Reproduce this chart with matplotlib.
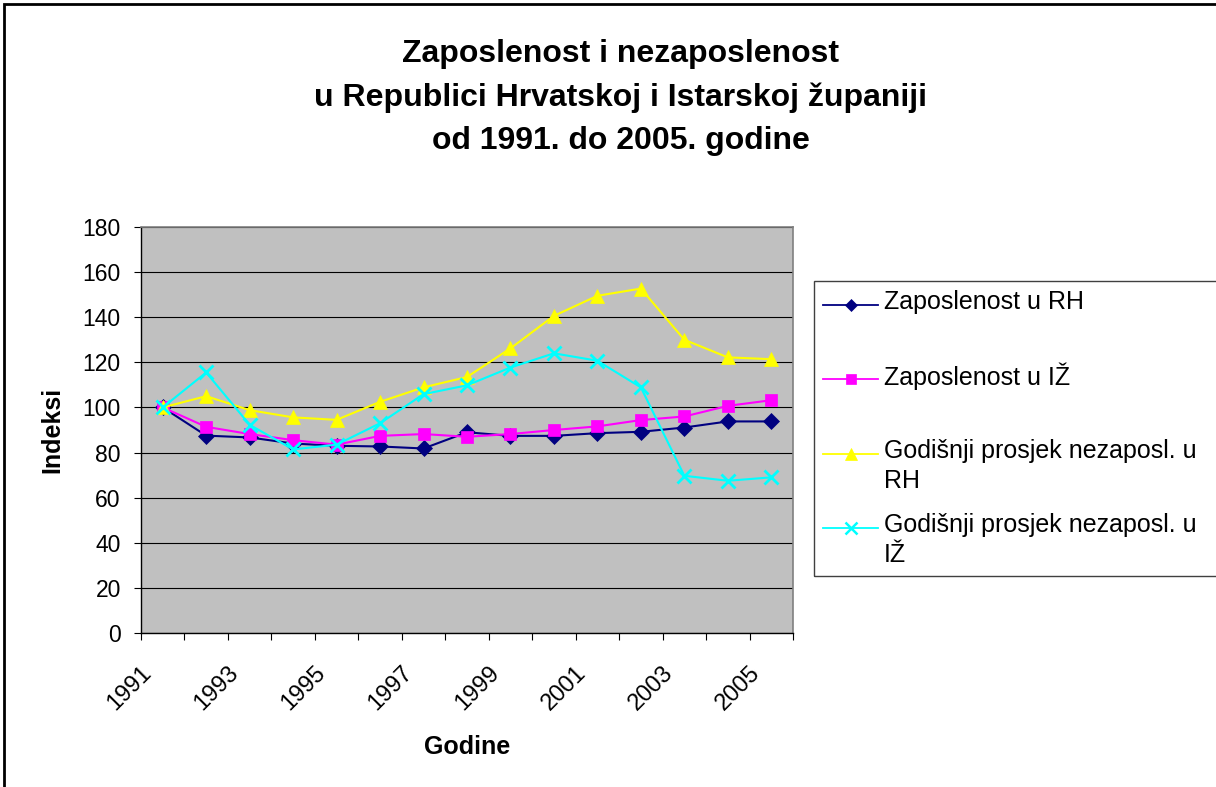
import matplotlib
matplotlib.use("Agg")
import matplotlib.pyplot as plt
from matplotlib.lines import Line2D
from matplotlib.patches import Rectangle
from matplotlib.transforms import ScaledTranslation

# Indeksi (1991 = 100), procitano sa slike
years = [1991, 1992, 1993, 1994, 1995, 1996, 1997, 1998,
         1999, 2000, 2001, 2002, 2003, 2004, 2005]
zap_rh = [100, 87.5, 86.7, 84.0, 83.0, 82.7, 81.8, 89.0,
          87.4, 87.4, 88.6, 89.2, 91.1, 93.8, 93.8]
zap_iz = [100, 91.4, 88.2, 85.5, 83.5, 87.4, 88.2, 87.0,
          88.2, 90.0, 91.6, 94.4, 96.0, 100.7, 103.2]
nez_rh = [100, 105.0, 98.8, 95.6, 94.5, 102.5, 108.9, 113.5,
          126.2, 140.6, 149.5, 152.7, 130.0, 122.2, 121.4]
nez_iz = [100, 115.5, 92.3, 81.4, 83.5, 93.0, 105.9, 109.8,
          117.7, 124.0, 120.7, 108.9, 69.7, 67.5, 69.0]

series_names = ["Zaposlenost u RH",
                "Zaposlenost u IŽ",
                "Godišnji prosjek nezaposl. u\nRH",
                "Godišnji prosjek nezaposl. u\nIŽ"]
series_colors = ["#000080", "#FF00FF", "#FFFF00", "#00FFFF"]
series_markers = ["D", "s", "^", "x"]

title_lines = ["Zaposlenost i nezaposlenost",
               "u Republici Hrvatskoj i Istarskoj županiji",
               "od 1991. do 2005. godine"]

plt.rcParams["font.family"] = ["Liberation Sans", "DejaVu Sans"]

W, H = 1216, 787


def fx(px):
    return px / W


def fy(py):
    return 1 - py / H


fig = plt.figure(figsize=(W / 100, H / 100), dpi=100)
ax = fig.add_axes([fx(141), fy(633), 652 / W, 406 / H])
ax.set_facecolor("#C0C0C0")

x = list(range(len(years)))
all_values = [zap_rh, zap_iz, nez_rh, nez_iz]
marker_sizes = [8, 9, 10.5, 10]
for vals, name, color, marker, ms in zip(all_values, series_names, series_colors,
                                         series_markers, marker_sizes):
    mew = 2 if marker == "x" else 0.5
    ax.plot(x, vals, color=color, lw=1.5, marker=marker, ms=ms,
            mfc=color, mec=color, mew=mew, label=name)

ax.set_xlim(-0.5, len(years) - 0.5)
ax.set_ylim(0, 180)
ax.set_yticks(range(0, 181, 20))
ax.yaxis.grid(True, color="black", lw=0.8)
ax.set_axisbelow(True)

ax.set_xticks(x[::2])
ax.set_xticklabels([str(y) for y in years[::2]])
ax.set_xticks([i - 0.5 for i in range(len(years) + 1)], minor=True)
ax.tick_params(axis="x", which="major", length=0, pad=21, labelsize=17)
ax.tick_params(axis="x", which="minor", length=5, width=0.8, direction="out")
ax.tick_params(axis="y", length=5, width=0.8, direction="out", pad=9.5, labelsize=16.5)

offset = ScaledTranslation(-7 / 100, 0, fig.dpi_scale_trans)
for lab in ax.get_xticklabels():
    lab.set_rotation(45)
    lab.set_ha("right")
    lab.set_va("top")
    lab.set_transform(lab.get_transform() + offset)

for side in ["top", "right"]:
    ax.spines[side].set_color("#808080")
    ax.spines[side].set_linewidth(1.2)
for side in ["left", "bottom"]:
    ax.spines[side].set_color("black")
    ax.spines[side].set_linewidth(1.0)

ax.set_ylabel("Indeksi", fontsize=18, fontweight="bold", va="center")
ax.yaxis.set_label_coords(-0.1365, 0.5)
ax.set_xlabel("Godine", fontsize=18, fontweight="bold", va="center")
ax.xaxis.set_label_coords(0.5, -0.281)

# naslov
for line, ty in zip(title_lines, [54, 98, 141]):
    fig.text(fx(621), fy(ty), line, ha="center", va="center",
             fontsize=23, fontweight="bold")

# legenda (Excel stil)
fig.patches.append(Rectangle((fx(814), fy(576)), 0.5, (576 - 281) / H,
                             transform=fig.transFigure, fill=False,
                             ec="#404040", lw=1.0))
for i, (name, color, marker) in enumerate(zip(series_names, series_colors,
                                              series_markers)):
    ly = 302 + i * 74.3
    mew = 1.8 if marker == "x" else 0.5
    ms = {"D": 6, "s": 7.5, "^": 9, "x": 9}[marker]
    fig.lines.append(Line2D([fx(823), fx(850.5), fx(878)], [fy(ly + 3)] * 3,
                            transform=fig.transFigure, color=color, lw=1.3,
                            marker=marker, markevery=[1], ms=ms,
                            mfc=color, mec=color, mew=mew))
    for j, part in enumerate(name.split("\n")):
        fig.text(fx(884), fy(ly + j * 30), part, ha="left", va="center",
                 fontsize=18)

# okvir grafikona
fig.patches.append(Rectangle((fx(4), -0.1), 1.2, 1.1 - 4 / H,
                             transform=fig.transFigure, fill=False,
                             ec="black", lw=2))

fig.savefig("out.png", dpi=100)
